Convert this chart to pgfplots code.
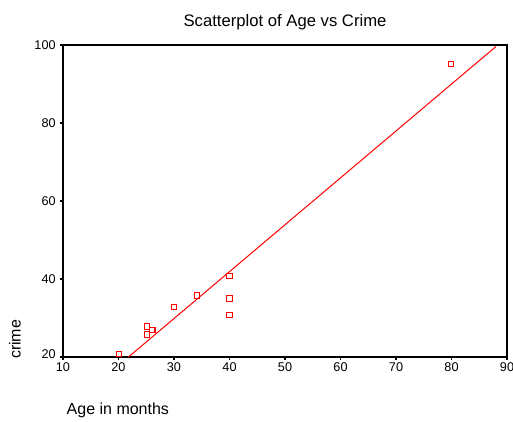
\documentclass[border=0pt]{standalone}
\usepackage{pgfplots}
\pgfplotsset{compat=1.18}
\usepackage{fontspec}
\setmainfont{Liberation Sans}
\begin{document}
\begin{tikzpicture}
\path[use as bounding box] (0pt,0pt) rectangle (384.75pt,315.75pt);
\begin{axis}[
  at={(47.25pt,48pt)}, anchor=south west,
  scale only axis, width=333pt, height=234pt,
  xmin=10, xmax=90, ymin=20, ymax=100,
  xtick={10,20,...,90}, ytick={20,40,60,80,100},
  yticklabels={\raisebox{4.5pt}{20},40,60,80,100},
  tick align=outside, major tick length=2pt,
  tick style={black, line width=1.2pt},
  axis line style={black, line width=0.9pt},
  ticklabel style={font=\fontsize{9.5}{11}\selectfont},
  /pgf/number format/assume math mode=true,
  xticklabel style={yshift=1pt},
  xtick pos=bottom, ytick pos=left,
  clip=true,
]
\addplot[red, line width=0.75pt] coordinates {(21.8,20) (88,99.6)};
\addplot[only marks, mark=square, mark size=2pt, red, mark options={line width=0.8pt}] coordinates {
(20.1,20.7) (25.1,27.8) (25.1,25.8) (26.1,26.9) (30.0,32.8) (34.1,35.8)
(40.0,40.8) (40.0,35.0) (40.0,30.8) (79.9,95.1)};
\end{axis}
\node[font=\fontsize{12.5}{15}\selectfont] at (213.75pt,299.25pt) {Scatterplot of Age vs Crime};
\node[font=\fontsize{12}{14}\selectfont, anchor=west] at (46.5pt,8.25pt) {Age in months};
\node[font=\fontsize{12}{14}\selectfont, rotate=90, anchor=west] at (11.25pt,43pt) {crime};
\end{tikzpicture}
\end{document}
